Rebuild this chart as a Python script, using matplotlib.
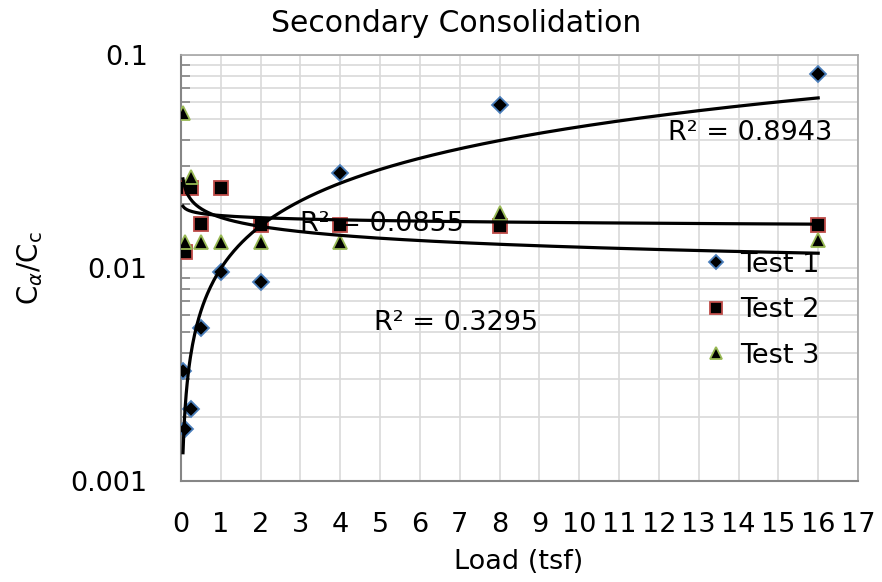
import numpy as np
import matplotlib
matplotlib.use('Agg')
import matplotlib.pyplot as plt
from matplotlib.ticker import LogLocator, NullFormatter, FixedLocator, FixedFormatter

plt.rcParams['font.family'] = ['DejaVu Sans']

# load increments (tsf) and secondary compression ratio for each test
load = [0.05, 0.1, 0.25, 0.5, 1, 2, 4, 8, 16]
test1 = [0.0033, 0.00175, 0.00218, 0.0052, 0.0096, 0.0086, 0.028, 0.058, 0.081]
test2 = [0.0238, 0.0119, 0.0238, 0.0161, 0.0238, 0.016, 0.016, 0.0158, 0.016]
test3 = [0.0534, 0.0133, 0.0267, 0.0133, 0.0133, 0.0133, 0.0133, 0.0181, 0.0135]
r2_labels = ['R² = 0.8943', 'R² = 0.0855', 'R² = 0.3295']

x_ticks = list(range(0, 18))
y_ticks = [0.001, 0.01, 0.1]
y_tick_labels = ['0.001', '0.01', '0.1']

fig = plt.figure(figsize=(8.82, 5.82), dpi=100)
ax = fig.add_axes([181 / 882, 1 - 481 / 582, 677 / 882, 426 / 582])

styles = [
    ('Test 1', test1, 'D', '#4a7ebb', 8),
    ('Test 2', test2, 's', '#be4b48', 10),
    ('Test 3', test3, '^', '#98b954', 10.5),
]

for name, vals, mk, edge, ms in styles:
    ax.plot(load, vals, linestyle='none', marker=mk, markersize=ms,
            markerfacecolor='black', markeredgecolor=edge, markeredgewidth=1.3,
            label=name, zorder=3)

# power trendlines y = a * x^b fitted in log space
xs = np.linspace(min(load), max(load), 600)
for name, vals, mk, edge, ms in styles:
    b, loga = np.polyfit(np.log10(load), np.log10(vals), 1)
    ax.plot(xs, 10 ** loga * xs ** b, color='black', linewidth=2.3, zorder=4)

ax.set_yscale('log')
ax.set_xlim(0, 17)
ax.set_ylim(0.001, 0.1)

ax.xaxis.set_major_locator(FixedLocator(x_ticks))
ax.yaxis.set_major_locator(FixedLocator(y_ticks))
ax.yaxis.set_major_formatter(FixedFormatter(y_tick_labels))
ax.yaxis.set_minor_locator(LogLocator(base=10, subs=np.arange(2, 10)))
ax.yaxis.set_minor_formatter(NullFormatter())

ax.grid(True, which='major', axis='both', color='#d9d9d9', linewidth=1.2, zorder=0)
ax.grid(True, which='minor', axis='y', color='#d9d9d9', linewidth=1.2, zorder=0)
ax.set_axisbelow(True)

fs = 19.5
ax.tick_params(axis='x', which='both', length=0, labelsize=fs, pad=22)
ax.tick_params(axis='y', which='major', direction='in', length=0, labelsize=fs, pad=24)
ax.tick_params(axis='y', which='minor', direction='in', length=6.5, width=1.2, color='#868686')

for side in ['left', 'bottom']:
    ax.spines[side].set_color('#868686')
    ax.spines[side].set_linewidth(1.5)
for side in ['top', 'right']:
    ax.spines[side].set_color('#a6a6a6')
    ax.spines[side].set_linewidth(1.2)

ax.text(14.3, 0.043, r2_labels[0], fontsize=fs, ha='center', va='center', zorder=5)
ax.text(5.05, 0.0161, r2_labels[1], fontsize=fs, ha='center', va='center', zorder=5)
ax.text(6.9, 0.0055, r2_labels[2], fontsize=fs, ha='center', va='center', zorder=5)

leg = ax.legend(loc='center left', bbox_to_anchor=(0.770, 0.401), frameon=False,
                fontsize=fs, borderpad=0, borderaxespad=0, handlelength=1,
                handletextpad=0.4, labelspacing=0.72, markerscale=0.85)

fig.text(456 / 882, 1 - 24 / 582, 'Secondary Consolidation', fontsize=21.5,
         ha='center', va='center')
fig.text(519 / 882, 1 - 562 / 582, 'Load (tsf)', fontsize=fs, ha='center', va='center')
fig.text(30 / 882, 1 - 268 / 582, r'C$_\alpha$/C$_\mathregular{c}$', fontsize=20,
         rotation=90, ha='center', va='center')

fig.savefig('out.png', dpi=100)
